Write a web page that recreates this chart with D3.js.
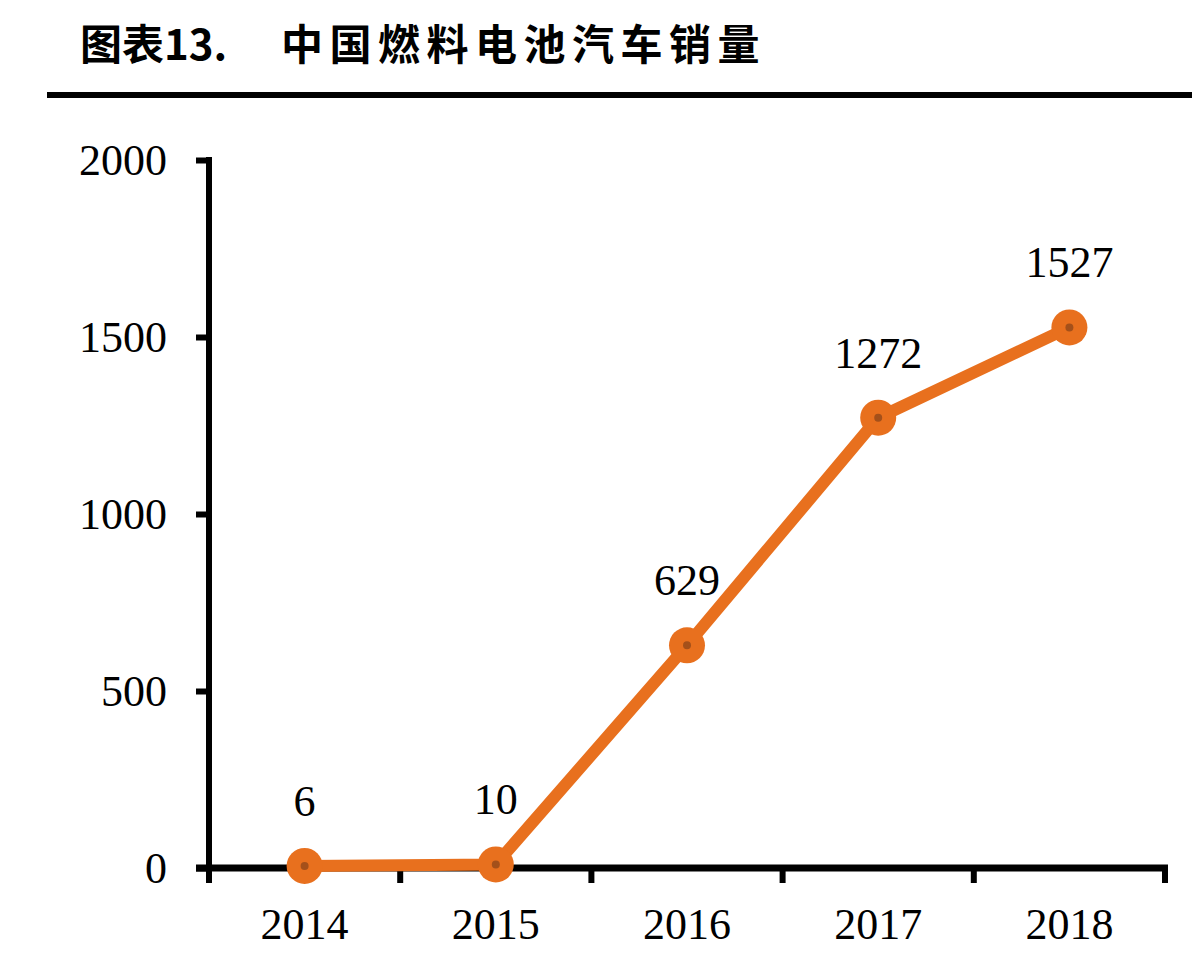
<!DOCTYPE html>
<html>
<head>
  <meta charset="utf-8">
  <title>中国燃料电池汽车销量</title>
  <script src="https://d3js.org/d3.v7.min.js"></script>
  <style>
    body { margin: 0; background: #fff; }
    .tick text { font-family: "Liberation Serif", "DejaVu Serif", serif; }
  </style>
</head>
<body>
  <svg width="1192" height="956"></svg>
  <script>
    // data
    var years = ["2014", "2015", "2016", "2017", "2018"];
    var sales = [6, 10, 629, 1272, 1527];
    var yTicks = [0, 500, 1000, 1500, 2000];

    var svg = d3.select("svg"),
        m = {left: 209, right: 1165, top: 160, bottom: 868};

    var orange = "#E8701E";

    // title and rule
    var title = svg.append("text")
        .attr("y", 60)
        .attr("font-family", "Noto Sans CJK SC")
        .attr("font-weight", "bold")
        .attr("font-size", 42)
        .attr("fill", "#000");
    title.append("tspan").attr("x", 80).text("图表13.");
    title.append("tspan").attr("x", 281).attr("letter-spacing", 6.5).text("中国燃料电池汽车销量");

    svg.append("rect")
        .attr("x", 47).attr("y", 92)
        .attr("width", 1145).attr("height", 6)
        .attr("fill", "#000");

    var x = d3.scaleBand().domain(years).range([m.left, m.right]).padding(0),
        y = d3.scaleLinear().domain([0, 2000]).range([m.bottom, m.top]);

    // y axis
    var yAxis = svg.append("g")
        .attr("transform", "translate(" + m.left + ",0)")
        .call(d3.axisLeft(y).tickValues(yTicks).tickFormat(d3.format("d"))
          .tickSize(13).tickPadding(29));
    yAxis.select(".domain").remove();
    yAxis.selectAll(".tick line").attr("stroke", "#000").attr("stroke-width", 6);
    yAxis.selectAll(".tick text").attr("font-size", 44).attr("fill", "#000");
    yAxis.append("line")
        .attr("x1", 0).attr("x2", 0)
        .attr("y1", m.top - 3).attr("y2", m.bottom + 14)
        .attr("stroke", "#000").attr("stroke-width", 6);

    // x axis, ticks sit on band edges
    var xAxis = svg.append("g")
        .attr("transform", "translate(0," + m.bottom + ")")
        .call(d3.axisBottom(x).tickSize(0).tickPadding(40));
    xAxis.select(".domain").remove();
    xAxis.selectAll(".tick text").attr("font-size", 44).attr("fill", "#000");

    var edges = years.map(function(d) { return x(d); }).concat([x.range()[1]]);
    xAxis.append("line")
        .attr("x1", m.left - 13).attr("x2", m.right + 3)
        .attr("y1", 0).attr("y2", 0)
        .attr("stroke", "#000").attr("stroke-width", 7);
    xAxis.selectAll(".edge")
        .data(edges)
        .enter().append("line")
        .attr("class", "edge")
        .attr("x1", function(d) { return d; })
        .attr("x2", function(d) { return d; })
        .attr("y1", 0).attr("y2", 15)
        .attr("stroke", "#000").attr("stroke-width", 6);

    var cx = function(d, i) { return x(years[i]) + x.bandwidth() / 2; },
        cy = function(d) { return y(d); };

    // line
    var line = d3.line().x(cx).y(cy);
    svg.append("path")
        .datum(sales)
        .attr("d", line)
        .attr("fill", "none")
        .attr("stroke", orange)
        .attr("stroke-width", 12)
        .attr("stroke-linejoin", "round");

    // markers
    svg.selectAll(".dot")
        .data(sales)
        .enter().append("circle")
        .attr("class", "dot")
        .attr("cx", cx).attr("cy", cy)
        .attr("r", 18)
        .attr("fill", orange);

    svg.selectAll(".pip")
        .data(sales)
        .enter().append("circle")
        .attr("class", "pip")
        .attr("cx", cx).attr("cy", cy)
        .attr("r", 4)
        .attr("fill", "#A4501A");

    // value labels
    svg.selectAll(".val")
        .data(sales)
        .enter().append("text")
        .attr("class", "val")
        .attr("x", cx)
        .attr("y", function(d) { return cy(d) - 50; })
        .attr("text-anchor", "middle")
        .attr("font-family", "Liberation Serif")
        .attr("font-size", 44)
        .attr("fill", "#000")
        .text(function(d) { return d; });
  </script>
</body>
</html>
